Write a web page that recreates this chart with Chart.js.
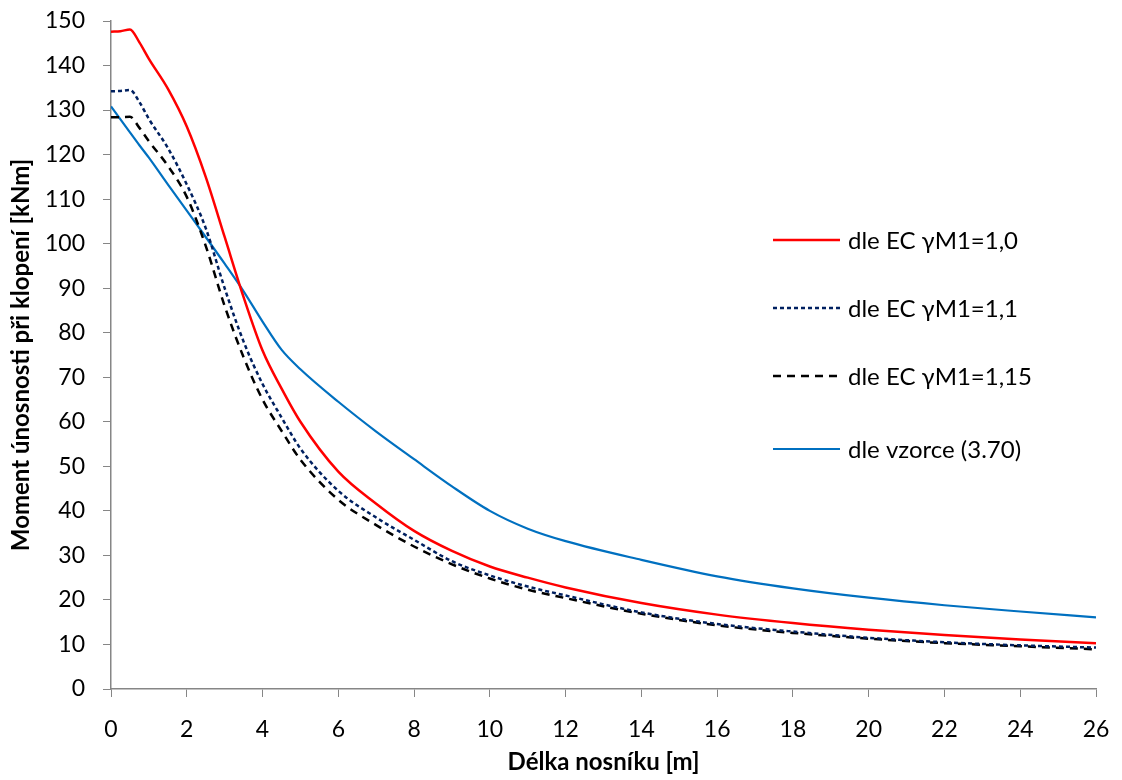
<!DOCTYPE html>
<html>
<head>
<meta charset="utf-8">
<script src="https://cdn.jsdelivr.net/npm/chart.js@4/dist/chart.umd.min.js"></script>
<style>
  body { margin: 0; background: #fff; }
  #wrap { width: 1122px; height: 780px; }
</style>
</head>
<body>
<div id="wrap"><canvas id="graf"></canvas></div>
<script>
// delka nosniku [m]
var aLengths = [0, 0.25, 0.5, 0.75, 1, 1.5, 2, 2.5, 3, 3.5, 4, 4.5, 5, 6, 7, 8, 9, 10, 11, 12, 14, 16, 18, 20, 22, 24, 26];

// moment unosnosti pri klopeni [kNm]
var aEC10 = [147.6, 147.7, 148.1, 145.2, 141.5, 134.8, 126.3, 115, 101.5, 88, 76, 67.5, 60, 48.8, 41.6, 35.5, 31, 27.5, 25, 22.8, 19.3, 16.7, 14.8, 13.3, 12.1, 11.1, 10.3];
var aEC11 = [134.2, 134.3, 134.5, 131.8, 128, 121.5, 113.3, 103.5, 90, 78, 68.5, 61, 54, 44.5, 38.5, 33.5, 28.7, 25.5, 23, 21, 17.2, 14.6, 12.9, 11.5, 10.5, 9.8, 9.3];
var aEC115 = [128.4, 128.4, 128.5, 126, 123, 117.5, 110.5, 99.5, 86, 74.5, 65, 58, 51.5, 42.5, 36.8, 32, 28, 24.8, 22.3, 20.4, 16.9, 14.3, 12.6, 11.3, 10.3, 9.6, 8.9];
var aFormula = [130.8, 127.9, 125, 122.1, 119.3, 113.3, 107.4, 101.5, 95.5, 89.3, 82.5, 76.2, 71.8, 64.5, 57.8, 51.6, 45.5, 40, 36, 33.2, 29, 25.3, 22.6, 20.5, 18.8, 17.4, 16.1];

var aLabels = ['dle EC \u03b3M1=1,0', 'dle EC \u03b3M1=1,1', 'dle EC \u03b3M1=1,15', 'dle vzorce (3.70)'];

var sFont = 'Lato, "Open Sans", sans-serif';

function toPoints(aY) {
    var aPts = [];
    for (var i = 0; i < aLengths.length; i++) {
        aPts.push({x: aLengths[i], y: aY[i]});
    }
    return aPts;
}

function makeSet(sLabel, aY, sColor, fWidth, aDash) {
    return {
        label: sLabel,
        data: toPoints(aY),
        borderColor: sColor,
        backgroundColor: sColor,
        borderWidth: fWidth,
        borderDash: aDash,
        pointRadius: 0,
        fill: false,
        cubicInterpolationMode: 'monotone'
    };
}

// legenda vpravo uvnitr grafu
var legendPlugin = {
    id: 'sideLegend',
    afterDraw: function (chart) {
        var ctx = chart.ctx;
        var aY = [240, 308, 376, 449];
        ctx.save();
        chart.data.datasets.forEach(function (ds, i) {
            ctx.beginPath();
            ctx.strokeStyle = ds.borderColor;
            ctx.lineWidth = ds.borderWidth;
            ctx.setLineDash(ds.borderDash || []);
            ctx.moveTo(773, aY[i]);
            ctx.lineTo(840, aY[i]);
            ctx.stroke();
            ctx.setLineDash([]);
            ctx.fillStyle = '#000';
            ctx.font = '24px ' + sFont;
            ctx.textBaseline = 'middle';
            ctx.fillText(ds.label, 848, aY[i] + 1);
        });
        ctx.restore();
    }
};

new Chart(document.getElementById('graf'), {
    type: 'line',
    data: {
        datasets: [
            makeSet(aLabels[0], aEC10, '#FF0000', 2.5, []),
            makeSet(aLabels[1], aEC11, '#002060', 2.5, [4, 3]),
            makeSet(aLabels[2], aEC115, '#000000', 2.5, [8, 6]),
            makeSet(aLabels[3], aFormula, '#0070C0', 2.2, [])
        ]
    },
    options: {
        responsive: true,
        maintainAspectRatio: false,
        animation: false,
        layout: { padding: { top: 21, right: 26, left: 0, bottom: 0 } },
        plugins: {
            legend: { display: false },
            tooltip: { enabled: false }
        },
        scales: {
            x: {
                type: 'linear',
                min: 0,
                max: 26,
                grid: { drawOnChartArea: false, color: '#868686', tickLength: 8 },
                border: { color: '#868686', width: 1.5 },
                ticks: { stepSize: 2, color: '#000', padding: 19, font: { family: sFont, size: 23 } },
                title: {
                    display: true,
                    text: 'Délka nosníku [m]',
                    color: '#000',
                    font: { family: sFont, size: 24, weight: 'bold' },
                    padding: { top: 0, bottom: 3 }
                },
                afterFit: function (scale) {
                    scale.height = 91;
                    scale.paddingLeft = 0;
                    scale.paddingRight = 0;
                }
            },
            y: {
                min: 0,
                max: 150,
                grid: { drawOnChartArea: false, color: '#868686', tickLength: 8 },
                border: { color: '#868686', width: 1.5 },
                ticks: { stepSize: 10, color: '#000', padding: 18, font: { family: sFont, size: 23 } },
                title: {
                    display: true,
                    text: 'Moment únosnosti při klopení [kNm]',
                    color: '#000',
                    font: { family: sFont, size: 24, weight: 'bold' },
                    padding: { top: 7, bottom: 0 }
                },
                afterFit: function (scale) {
                    scale.width = 111;
                    scale.paddingTop = 0;
                    scale.paddingBottom = 0;
                }
            }
        }
    },
    plugins: [legendPlugin]
});
</script>
</body>
</html>
